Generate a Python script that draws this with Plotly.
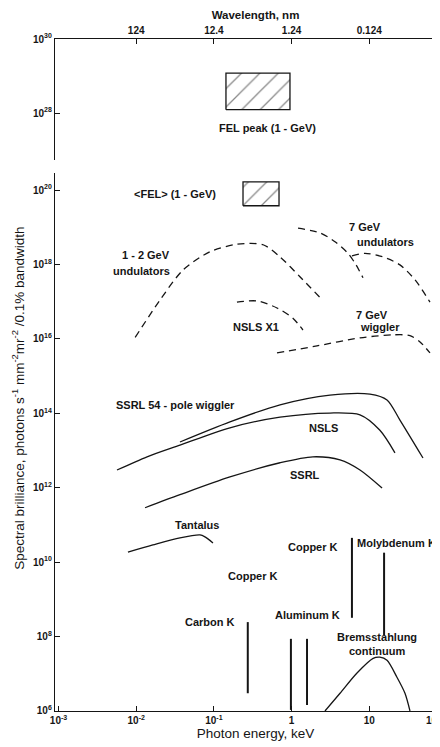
import numpy as np
import plotly.graph_objects as go

# ---------------- data (photon energy in keV, spectral brilliance) ----------------
und12_E = [0.0097, 0.0202, 0.040, 0.089, 0.198, 0.43, 0.71, 1.28, 2.32]
und12_B = [1.1e16, 1.1e17, 7.1e17, 2.2e18, 3.5e18, 3.4e18, 1.6e18, 4.7e17, 1.3e17]

und7a_E = [1.21, 2.32, 3.62, 5.32, 6.75, 8.30]
und7a_B = [9.5e18, 7.1e18, 4.1e18, 2.0e18, 9.8e17, 4.4e17]

und7b_E = [5.98, 8.81, 15.0, 24.8, 38.7, 60.4]
und7b_B = [1.7e18, 2.0e18, 1.6e18, 9.8e17, 3.9e17, 9.8e16]

nslsx1_E = [0.198, 0.359, 0.649, 1.04, 1.40]
nslsx1_B = [9.8e16, 1.05e17, 6.8e16, 3.6e16, 1.74e16]

wig7_E = [0.649, 2.12, 7.59, 20.2, 33.4, 45.0, 60.4]
wig7_B = [4.2e15, 6.5e15, 1.07e16, 1.29e16, 1.23e16, 8.3e15, 4.2e15]

ssrl54_E = [0.0366, 0.161, 0.71, 3.12, 10.2, 16.9, 24.8, 49.1]
ssrl54_B = [1.7e13, 5.9e13, 1.7e14, 3.1e14, 3.3e14, 2.3e14, 6.6e13, 6.3e12]

nsls_E = [0.00566, 0.0138, 0.0366, 0.161, 0.71, 3.12, 7.59, 13.7, 21.4]
nsls_B = [3.0e12, 6.8e12, 1.4e13, 4.1e13, 7.9e13, 1.02e14, 9.1e13, 3.5e13, 8.7e12]

ssrl_E = [0.0130, 0.0366, 0.161, 0.71, 1.88, 4.20, 7.59, 14.6]
ssrl_B = [2.9e11, 6.5e11, 1.95e12, 4.7e12, 6.8e12, 5.6e12, 3.0e12, 9.8e11]

tant_E = [0.00783, 0.0164, 0.0366, 0.0662, 0.0767, 0.0973]
tant_B = [1.86e10, 2.9e10, 4.5e10, 5.4e10, 4.8e10, 3.3e10]

brem_E = [2.69, 4.20, 6.95, 11.2, 13.7, 16.9, 22.7, 28.8, 33.4]
brem_B = [1.0e6, 3.0e6, 1.05e7, 2.6e7, 2.8e7, 2.3e7, 8.1e6, 3.0e6, 1.0e6]

# characteristic lines: energy, lower and upper brilliance
line_names = ["Carbon K", "Copper L", "Aluminum K", "Copper K", "Molybdenum K"]
line_E = [0.273, 0.98, 1.58, 5.98, 15.5]
line_B_low = [3.0e6, 1.07e6, 1.45e6, 3.2e8, 1.1e8]
line_B_high = [2.45e8, 8.7e7, 8.7e7, 4.5e10, 1.8e10]

# FEL boxes: energy span and brilliance span
felpeak_E = [0.143, 0.953]
felpeak_B = [1.23e28, 1.2e29]
felavg_E = [0.237, 0.689]
felavg_B = [3.8e19, 1.66e20]

# axis ticks
bottom_tickvals = [1e-3, 1e-2, 1e-1, 1, 10]
bottom_ticktext = ["10<sup>-3</sup>", "10<sup>-2</sup>", "10<sup>-1</sup>", "1", "10"]
top_tickvals = [0.01, 0.1, 1, 10]
top_ticktext = ["124", "12.4", "1.24", "0.124"]
low_exps = [6, 8, 10, 12, 14, 16, 18, 20]
up_exps = [28, 30]

# ---------------- figure ----------------
FONT = "Liberation Sans, Arial, Helvetica, sans-serif"
INK = "#151515"

fig = go.Figure()

def curve(E, B, dash=None, ax=("x", "y")):
    fig.add_trace(go.Scatter(
        x=E, y=B, mode="lines", xaxis=ax[0], yaxis=ax[1], showlegend=False,
        line=dict(color=INK, width=1.3, dash=dash, shape="spline", smoothing=0.8),
        hoverinfo="skip"))

DASH = "7px,5px"
curve(und12_E, und12_B, DASH)
curve(und7a_E, und7a_B, DASH)
curve(und7b_E, und7b_B, DASH)
curve(nslsx1_E, nslsx1_B, DASH)
curve(wig7_E, wig7_B, DASH)
curve(ssrl54_E, ssrl54_B)
curve(nsls_E, nsls_B)
curve(ssrl_E, ssrl_B)
curve(tant_E, tant_B)
curve(brem_E, brem_B)

# vertical characteristic lines
vx, vy = [], []
for e, lo, hi in zip(line_E, line_B_low, line_B_high):
    vx += [e, e, None]
    vy += [lo, hi, None]
fig.add_trace(go.Scatter(x=vx, y=vy, mode="lines", showlegend=False, hoverinfo="skip",
                         line=dict(color=INK, width=2)))

def box(E, B, ax):
    xs = [E[0], E[1], E[1], E[0], E[0]]
    ys = [B[0], B[0], B[1], B[1], B[0]]
    fig.add_trace(go.Scatter(
        x=xs, y=ys, mode="lines", fill="toself", xaxis=ax[0], yaxis=ax[1],
        showlegend=False, hoverinfo="skip",
        line=dict(color=INK, width=1.3),
        fillcolor="white",
        fillpattern=dict(shape="/", fgcolor=INK, bgcolor="white", size=13, solidity=0.1)))

box(felpeak_E, felpeak_B, ("x2", "y2"))
box(felavg_E, felavg_B, ("x", "y"))

# ---------------- labels ----------------
LBL = dict(family=FONT, size=11, color=INK, weight="bold")
labels = [
    ("&lt;FEL&gt; (1 - GeV)", 0.0316, 7.9e19, "center"),
    ("1 - 2 GeV", 0.0134, 1.8e18, "center"),
    ("undulators", 0.0116, 6.8e17, "center"),
    ("7 GeV", 8.8, 1.0e19, "center"),
    ("undulators", 16.4, 4.1e18, "center"),
    ("NSLS X1", 0.348, 2.1e16, "center"),
    ("7 GeV", 10.8, 4.5e16, "center"),
    ("wiggler", 13.7, 2.1e16, "center"),
    ("SSRL 54 - pole wiggler", 0.0316, 1.7e14, "center"),
    ("NSLS", 2.54, 4.1e13, "center"),
    ("SSRL", 1.49, 2.2e12, "center"),
    ("Tantalus", 0.0607, 1.0e11, "center"),
    ("Copper K", 1.88, 2.6e10, "center"),
    ("Molybdenum K", 6.6, 3.3e10, "left"),
    ("Copper K", 0.319, 4.3e9, "center"),
    ("Carbon K", 0.089, 2.45e8, "center"),
    ("Aluminum K", 1.58, 3.8e8, "center"),
    ("Bremsstahlung", 12.6, 9.8e7, "center"),
    ("continuum", 12.6, 4.1e7, "center"),
]
for text, e, b, anc in labels:
    fig.add_annotation(x=np.log10(e), y=np.log10(b), xref="x", yref="y", text=text,
                       showarrow=False, xanchor=anc, yanchor="middle", font=LBL)

fig.add_annotation(x=np.log10(0.483), y=np.log10(3.9e27), xref="x2", yref="y2",
                   text="FEL peak (1 - GeV)", showarrow=False, font=LBL)

# y-axis title
fig.add_annotation(xref="paper", yref="paper", x=-0.0923, y=0.466, textangle=-90,
                   xanchor="center", yanchor="middle",
                   text="Spectral brilliance, photons s<sup>-1</sup> mm<sup>-2</sup>mr<sup>-2</sup> /0.1% bandwidth",
                   showarrow=False, font=dict(family=FONT, size=13.5, color=INK))
# 10^2 label, cut by the right edge of the page
fig.add_annotation(xref="x", yref="paper", x=2, y=0, xanchor="right", yanchor="top",
                   xshift=-7, yshift=-2, text="10", showarrow=False,
                   font=dict(family=FONT, size=10, color=INK, weight="bold"))

XR = [-3.045, 2.116]
axis_common = dict(type="log", showgrid=False, zeroline=False, showline=True,
                   automargin=False,
                   linecolor=INK, linewidth=1.4, ticks="inside", ticklen=5,
                   tickcolor=INK, tickwidth=1.2,
                   tickfont=dict(family=FONT, size=10, color=INK, weight="bold"))

fig.update_layout(
    width=448, height=747,
    margin=dict(l=47, r=0, t=31, b=44, autoexpand=False),
    paper_bgcolor="white", plot_bgcolor="white",
    xaxis=dict(**axis_common, range=XR, anchor="y", domain=[0, 1],
               tickvals=bottom_tickvals, ticktext=bottom_ticktext,
               title=dict(text="Photon energy, keV", standoff=1,
                          font=dict(family=FONT, size=13.5, color=INK))),
    xaxis2=dict(**axis_common, range=XR, anchor="y2", side="top", domain=[0, 1],
                tickvals=top_tickvals, ticktext=top_ticktext,
                title=dict(text="Wavelength, nm", standoff=2,
                           font=dict(family=FONT, size=11.5, color=INK, weight="bold"))),
    yaxis=dict(**axis_common, range=[6, 20.46], domain=[0, 0.8006], anchor="x",
               tickvals=[10.0 ** k for k in low_exps] + [10 ** 20.46],
               ticktext=[f"10<sup>{k}</sup>" for k in low_exps] + [""]),
    yaxis2=dict(**axis_common, range=[26.73, 30], domain=[0.8199, 1], anchor="x2",
                tickvals=[10.0 ** k for k in up_exps] + [10 ** 26.73],
                ticktext=[f"10<sup>{k}</sup>" for k in up_exps] + [""]),
)

fig.write_html("out.html")
